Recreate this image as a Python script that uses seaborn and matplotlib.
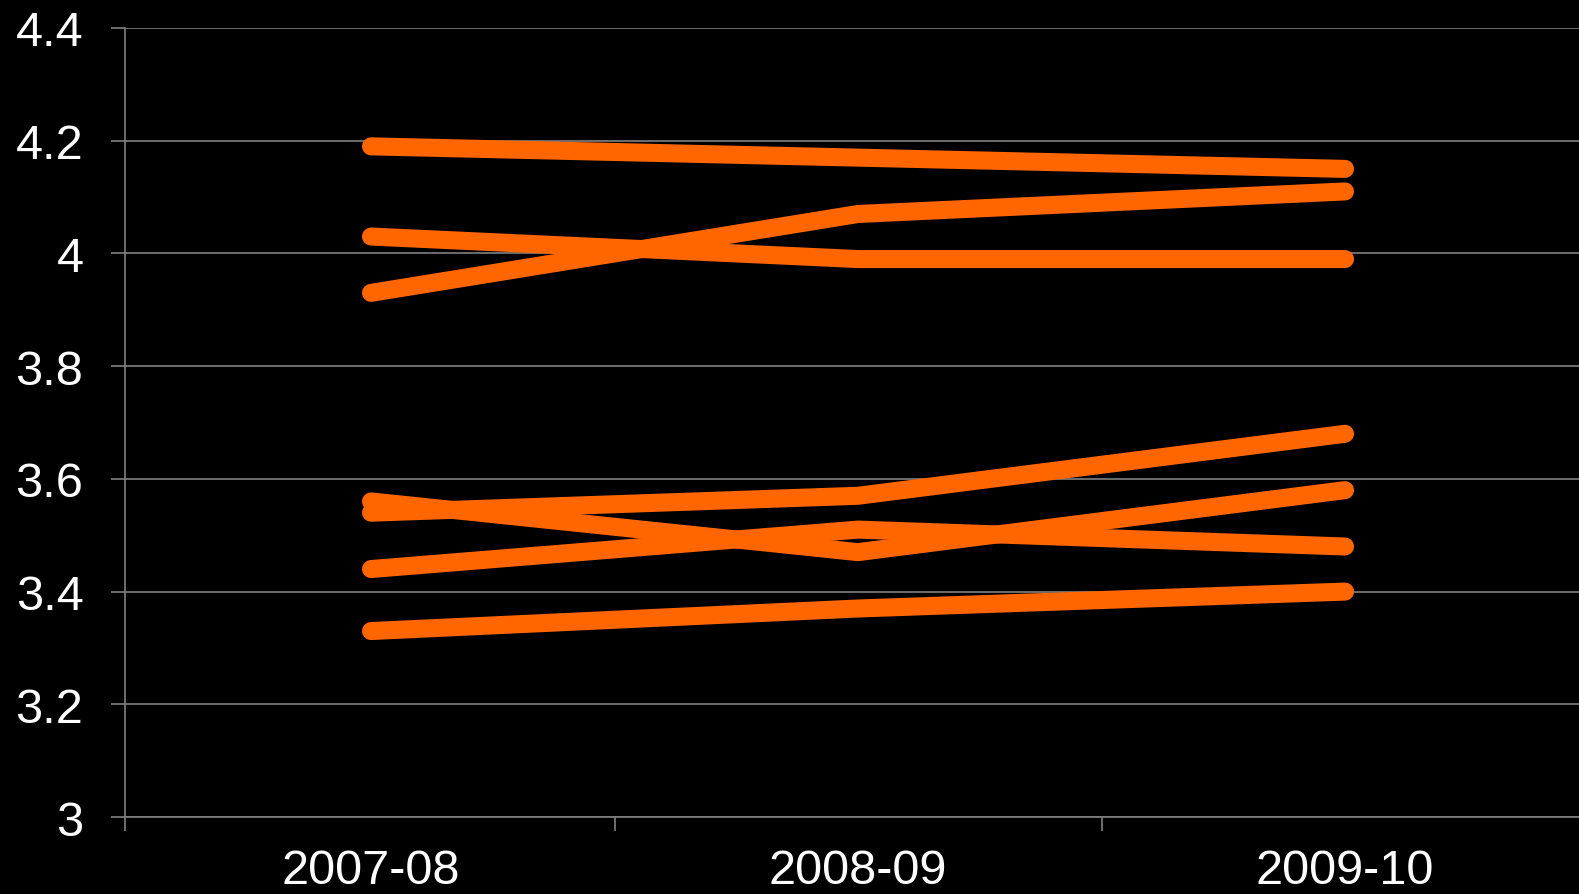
import pandas as pd
import seaborn as sns
import matplotlib.pyplot as plt
from matplotlib.ticker import FixedLocator

# Data
years = ["2007-08", "2008-09", "2009-10"]
s1 = [4.19, 4.17, 4.15]
s2 = [4.03, 3.99, 3.99]
s3 = [3.93, 4.07, 4.11]
s4 = [3.54, 3.57, 3.68]
s5 = [3.56, 3.47, 3.58]
s6 = [3.44, 3.51, 3.48]
s7 = [3.33, 3.37, 3.40]
series = [s1, s2, s3, s4, s5, s6, s7]

rows = []
for i, vals in enumerate(series):
    for yr, v in zip(years, vals):
        rows.append({"year": yr, "value": v, "series": f"s{i+1}"})
df = pd.DataFrame(rows)

sns.set_style("dark")
plt.rcParams['font.family'] = ['Liberation Sans', 'DejaVu Sans']

fig = plt.figure(figsize=(15.79, 8.95), dpi=100, facecolor="black")
ax = fig.add_axes([0.0792, 0.086, 0.9253, 0.8816])
ax.set_facecolor("black")

sns.lineplot(data=df, x="year", y="value", hue="series",
             palette=["#ff6600"] * 7, linewidth=13, legend=False,
             solid_capstyle="round", ax=ax, sort=False)

grid_col = "#808080"
ax.set_xlim(-0.505, 2.495)
ax.set_ylim(3, 4.4)
ax.set_yticks([3, 3.2, 3.4, 3.6, 3.8, 4.0, 4.2, 4.4])
ax.set_yticklabels(["3", "3.2", "3.4", "3.6", "3.8", "4", "4.2", "4.4"])
ax.set_xticks([0, 1, 2])
ax.set_xticklabels(years)
ax.xaxis.set_minor_locator(FixedLocator([-0.505, 0.5, 1.5, 2.5]))

ax.grid(axis="y", color=grid_col, linewidth=1.2)
ax.grid(axis="x", visible=False)
ax.set_axisbelow(True)

ax.tick_params(axis="y", which="major", length=10, width=1.2, color=grid_col,
               labelcolor="white", labelsize=35, pad=20, left=True)
ax.tick_params(axis="x", which="major", length=0, labelcolor="white",
               labelsize=35, pad=22)
ax.tick_params(axis="x", which="minor", length=10, width=1.2, color=grid_col,
               bottom=True)

for side in ["top", "right"]:
    ax.spines[side].set_visible(False)
for side in ["left", "bottom"]:
    ax.spines[side].set_visible(True)
    ax.spines[side].set_color(grid_col)
    ax.spines[side].set_linewidth(1.2)

ax.set_xlabel("")
ax.set_ylabel("")

fig.savefig("out.png", dpi=100, facecolor="black")
